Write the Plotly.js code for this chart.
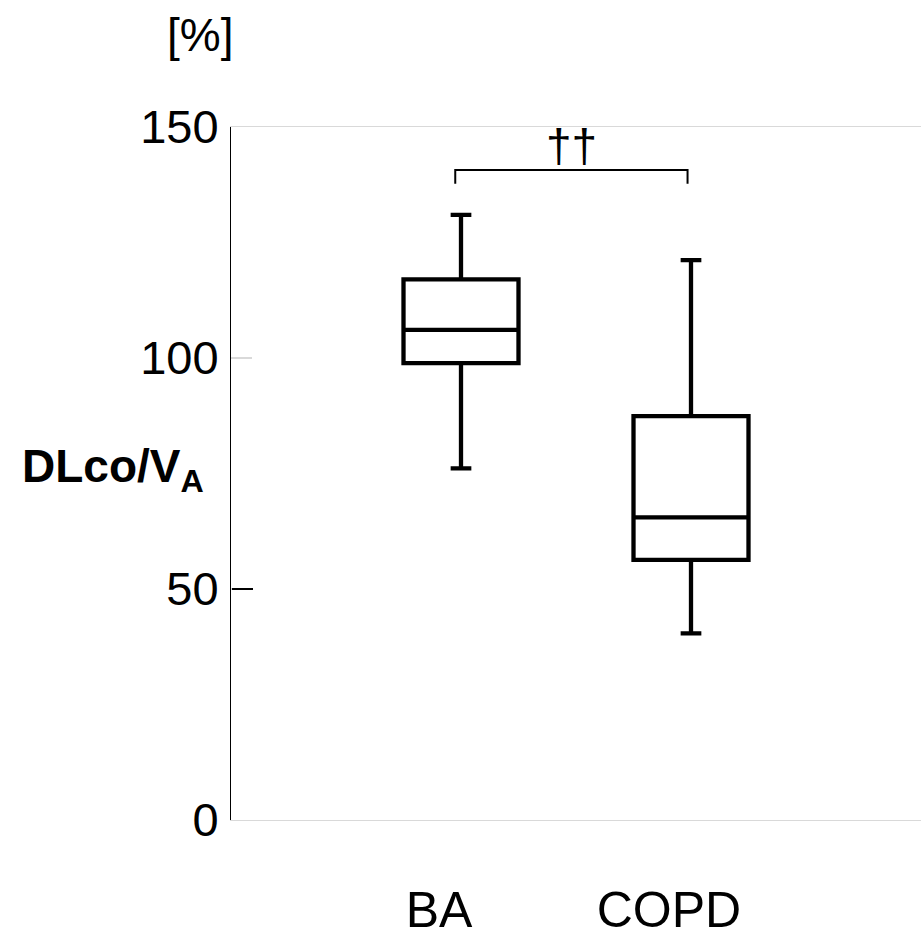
<!DOCTYPE html>
<html>
<head>
<meta charset="utf-8">
<script src="https://cdn.plot.ly/plotly-3.0.1.min.js"></script>
<style>html,body{margin:0;padding:0;background:#fff;}#chart{width:921px;height:937px;}</style>
</head>
<body>
<div id="chart"></div>
<script>
var categories = ['BA', 'COPD'];
var lowerWhisker = [76.1, 40.4];
var q1Values = [98.9, 56.3];
var medianValues = [106.1, 65.5];
var q3Values = [117.0, 87.4];
var upperWhisker = [131.0, 121.2];
var yTickValues = [0, 50, 100, 150];
var yTickLabels = ['0', '50', '100', '150'];
var darkTickValues = [50];
var bracketX = [-0.025, 0.985];
var bracketY = [137.7, 140.7];
var sigLabel = '\u2020\u2020';

var font = 'Arial, "Liberation Sans", sans-serif';

var trace = {
  type: 'box',
  x: categories,
  lowerfence: lowerWhisker,
  q1: q1Values,
  median: medianValues,
  q3: q3Values,
  upperfence: upperWhisker,
  boxpoints: false,
  width: 0.5,
  whiskerwidth: 0.18,
  fillcolor: '#ffffff',
  line: {color: '#000000', width: 4.3},
  hoverinfo: 'skip',
  showlegend: false
};

// invisible helper trace so the overlay axis (dark tick at 50) is drawn
var helper = {
  type: 'scatter',
  x: categories,
  y: medianValues,
  mode: 'none',
  yaxis: 'y2',
  hoverinfo: 'skip',
  showlegend: false
};

var layout = {
  width: 921,
  height: 937,
  margin: {l: 231, r: 0, t: 127, b: 117},
  paper_bgcolor: '#ffffff',
  plot_bgcolor: '#ffffff',
  showlegend: false,
  xaxis: {
    type: 'category',
    range: [-1, 2],
    showgrid: false,
    zeroline: false,
    showline: true,
    mirror: true,
    linecolor: '#d9d9d9',
    linewidth: 1,
    ticks: '',
    ticklabelstandoff: 46,
    ticklabelshift: -22,
    tickfont: {family: font, size: 50, color: '#000000'}
  },
  yaxis: {
    range: [0, 150],
    tickvals: yTickValues,
    ticktext: yTickLabels,
    showgrid: false,
    zeroline: false,
    showline: true,
    linecolor: '#000000',
    linewidth: 1,
    ticks: 'inside',
    ticklen: 21,
    tickwidth: 1.5,
    tickcolor: '#d9d9d9',
    ticklabelstandoff: 2,
    tickfont: {family: font, size: 47, color: '#000000'}
  },
  yaxis2: {
    overlaying: 'y',
    side: 'right',
    anchor: 'free',
    position: 0,
    range: [0, 150],
    tickvals: darkTickValues,
    showticklabels: false,
    showgrid: false,
    zeroline: false,
    showline: false,
    ticks: 'outside',
    ticklen: 21,
    tickwidth: 1.5,
    tickcolor: '#000000'
  },
  shapes: [{
    type: 'path',
    xref: 'x', yref: 'y',
    path: 'M ' + bracketX[0] + ',' + bracketY[0] + ' L ' + bracketX[0] + ',' + bracketY[1] +
          ' L ' + bracketX[1] + ',' + bracketY[1] + ' L ' + bracketX[1] + ',' + bracketY[0],
    line: {color: '#000000', width: 2}
  }],
  annotations: [
    {
      text: sigLabel, xref: 'x', yref: 'y', x: (bracketX[0] + bracketX[1]) / 2, y: bracketY[1],
      yanchor: 'bottom', showarrow: false, yshift: -4,
      font: {family: font, size: 46, color: '#000000'}
    },
    {
      text: '[%]', xref: 'paper', yref: 'paper', x: 0.006, y: 1, xanchor: 'right', yanchor: 'middle',
      yshift: 92, showarrow: false,
      font: {family: font, size: 46, color: '#000000'}
    },
    {
      text: '<b>DLco/V<sub>A</sub></b>', xref: 'paper', yref: 'y', x: -0.306, y: 75.8,
      xanchor: 'left', yanchor: 'middle', showarrow: false,
      font: {family: font, size: 46, color: '#000000'}
    }
  ]
};

Plotly.newPlot('chart', [trace, helper], layout, {staticPlot: true, displayModeBar: false});
</script>
</body>
</html>
